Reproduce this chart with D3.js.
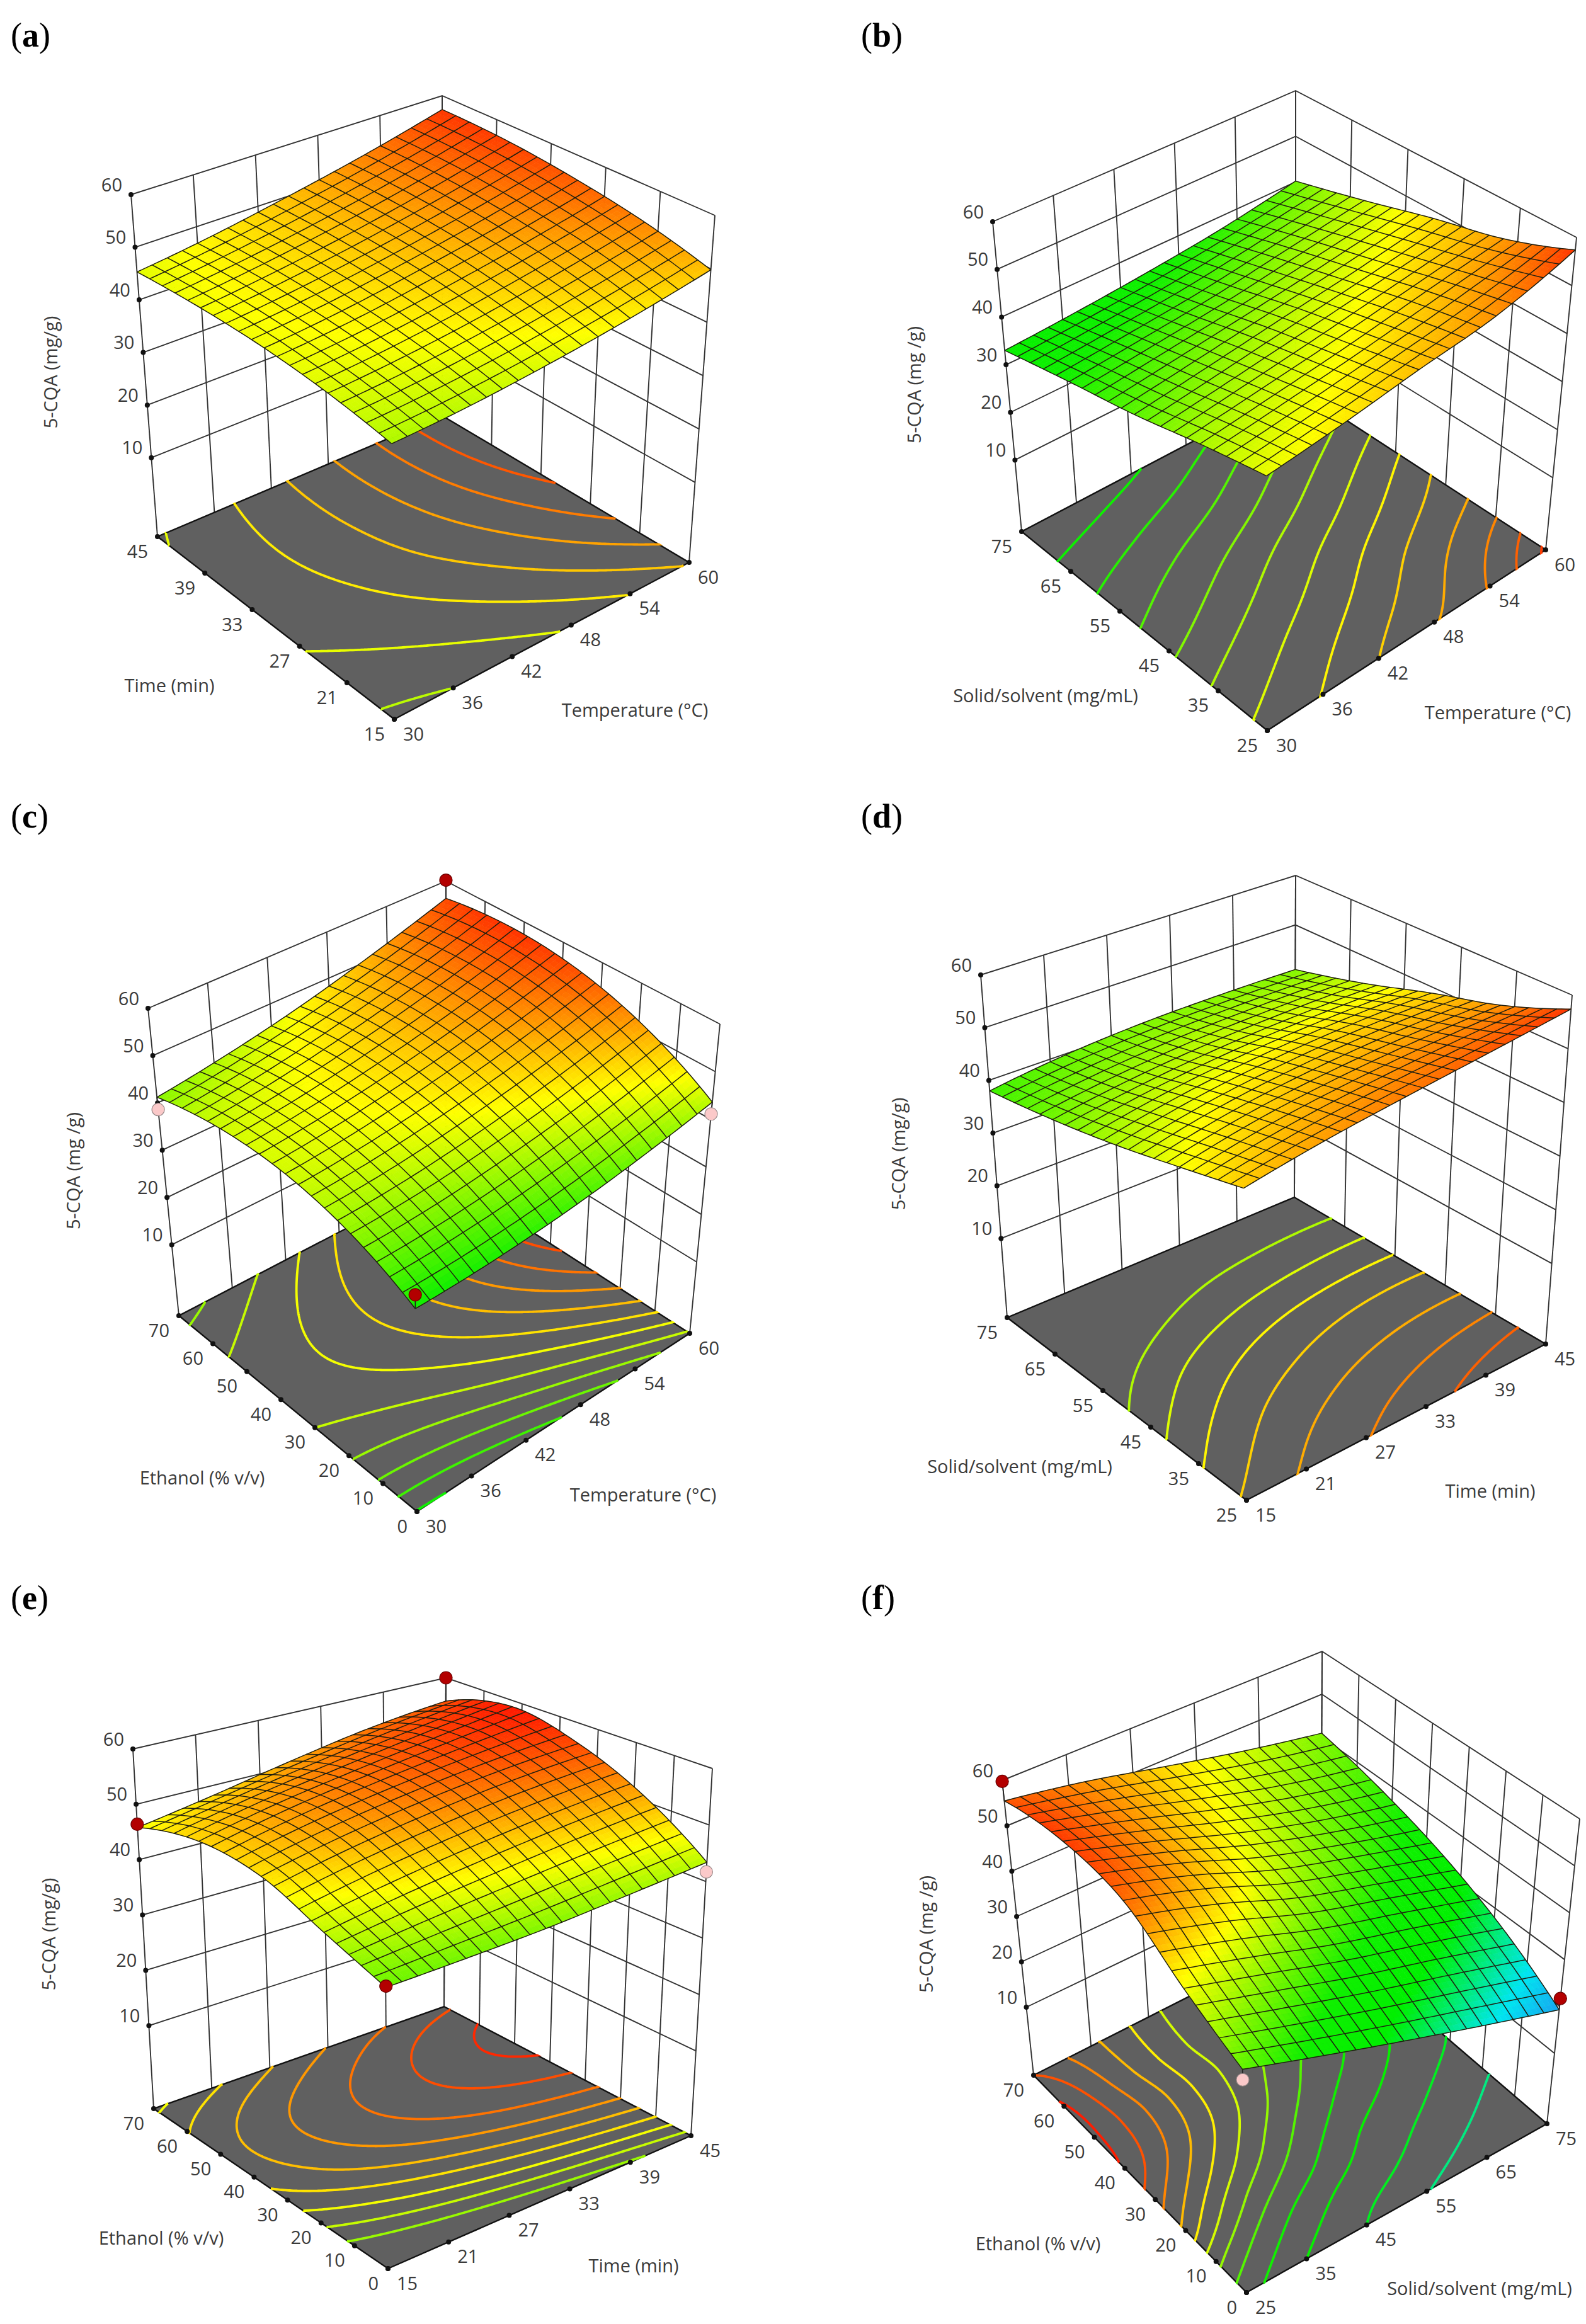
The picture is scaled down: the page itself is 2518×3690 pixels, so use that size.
<!DOCTYPE html>
<html>
<head>
<meta charset="utf-8">
<script src="https://cdn.jsdelivr.net/npm/d3@7"></script>
<style>
  html, body { margin: 0; background: #fff; }
  text { font-family: "Open Sans", sans-serif; fill: #3a3a3a; }
</style>
</head>
<body>
<svg id="chart" width="2518" height="3690"></svg>
<script>
// tick labels
const tempTicks = [30, 36, 42, 48, 54, 60];
const timeTicks = [15, 21, 27, 33, 39, 45];
const solidTicks = [25, 35, 45, 55, 65, 75];
const ethanolTicks = [0, 10, 20, 30, 40, 50, 60, 70];
const zTicks = [10, 20, 30, 40, 50, 60];

// 5-CQA at 5x5 nodes: rows = y axis low to high, columns = x axis low to high
const surfaceA = [
  [43.0, 43.7, 45.1, 47.1, 49.8],
  [44.9, 45.9, 47.6, 50.0, 53.0],
  [45.9, 47.2, 49.3, 51.9, 55.2],
  [46.0, 47.7, 50.0, 53.0, 56.7],
  [45.3, 47.3, 50.0, 53.2, 57.2]
];
const surfaceB = [
  [45.6, 47.5, 50.0, 52.4, 57.4],
  [42.7, 44.6, 46.7, 49.4, 52.0],
  [39.2, 41.2, 43.4, 45.6, 48.4],
  [36.3, 37.7, 39.3, 41.7, 44.2],
  [33.0, 34.0, 35.4, 37.3, 40.2]
];
const surfaceC = [
  [35.9, 36.4, 37.8, 40.2, 43.6],
  [41.7, 42.5, 44.4, 47.2, 51.1],
  [44.5, 45.8, 48.1, 51.4, 55.7],
  [44.3, 46.1, 48.9, 52.6, 57.4],
  [41.2, 43.5, 46.7, 51.0, 56.2]
];
const surfaceD = [
  [49.3, 51.7, 53.6, 55.4, 57.4],
  [46.1, 49.0, 50.8, 51.9, 52.4],
  [42.9, 45.8, 47.6, 48.6, 48.8],
  [40.2, 42.3, 43.7, 44.4, 44.6],
  [38.0, 39.8, 40.8, 41.1, 41.0]
];
const surfaceE = [
  [40.0, 40.4, 41.0, 42.1, 43.4],
  [43.8, 46.0, 47.9, 49.6, 51.0],
  [48.0, 50.9, 53.2, 55.0, 56.2],
  [48.8, 51.8, 54.2, 56.5, 58.8],
  [45.8, 48.2, 51.0, 53.6, 55.4]
];
const surfaceF = [
  [39.7, 34.6, 29.5, 24.4, 19.3],
  [46.2, 41.5, 36.5, 32.0, 27.0],
  [54.5, 49.5, 43.0, 38.0, 33.0],
  [57.0, 52.0, 46.5, 41.5, 37.5],
  [55.5, 52.5, 48.5, 44.5, 40.9]
];

// where the floor contours disagree with the heights above, the floor is read on its own
const floorE = [
  [37.5, 38.7, 40.0, 41.4, 43.0],
  [43.8, 46.0, 47.9, 49.6, 51.0],
  [48.0, 50.9, 53.2, 55.0, 56.2],
  [48.8, 51.8, 54.2, 56.5, 58.8],
  [45.5, 48.2, 51.0, 53.6, 55.4]
];
// rows = ethanol ticks, columns = solid/solvent ticks
const floorF = [
  [37.5, 33.0, 30.0, 27.2, 24.7, 22.0],
  [42.7, 36.9, 32.8, 30.2, 27.7, 25.0],
  [49.4, 41.9, 37.0, 32.7, 30.1, 27.5],
  [54.2, 47.1, 40.9, 36.0, 32.6, 29.8],
  [58.2, 50.9, 44.2, 39.0, 35.0, 31.0],
  [59.2, 52.2, 45.4, 41.0, 36.5, 33.0],
  [58.9, 51.5, 45.2, 40.5, 36.0, 32.0],
  [55.8, 51.0, 45.7, 40.5, 36.0, 32.0]
];

// contour levels on the floor
const levelsA = [43.5, 45.5, 47.5, 49.5, 51.5, 53.5, 55.5];
const levelsB = [35, 37, 39, 41, 43, 45, 47, 49, 51, 53, 55, 57];
const levelsC = [36, 38, 40, 42, 44, 46, 48, 50, 52, 54, 56];
const levelsD = [43, 45, 47, 49, 51, 53, 55];
const levelsE = [42, 44, 46, 48, 50, 52, 54, 56, 58];
const levelsF = [27, 30, 33, 36, 39, 41.8, 44.6, 47.4, 50.2, 53, 55.8, 58.6];

// design points [x, y, 5-CQA]
const pointsC = [[30, 70, 38.6], [60, 70, 60.2], [60, 0, 41.1], [30, 0, 38.7]];
const pointsE = [[15, 70, 46.4], [45, 70, 60.0], [45, 0, 41.7], [15, 0, 40.2]];
const pointsF = [[25, 70, 59.8], [75, 0, 21.7], [25, 0, 37.6]];

const zFloor = -5;
const gridCells = 20, subCells = 3, contourSize = 161;

const panels = [
  {name: "a", xTicks: tempTicks, yTicks: timeTicks, surface: surfaceA, levels: levelsA, points: [],
   xTitle: "Temperature (°C)", yTitle: "Time (min)", zTitle: "5-CQA (mg/g)",
   labelAt: [17, 74], xTitleAt: [1008, 1126], yTitleAt: [269, 1087], zTitleAt: [79, 591],
   L: [250, 852], F: [626, 1142], R: [1094, 893], B: [702, 660], TL: [208, 309], TB: [702, 152], TR: [1135, 342]},
  {name: "b", xTicks: tempTicks, yTicks: solidTicks, surface: surfaceB, levels: levelsB, points: [],
   xTitle: "Temperature (°C)", yTitle: "Solid/solvent (mg/mL)", zTitle: "5-CQA (mg /g)",
   labelAt: [1367, 74], xTitleAt: [2378, 1130], yTitleAt: [1660, 1103], zTitleAt: [1450, 611],
   L: [1622, 844], F: [2012, 1160], R: [2454, 873], B: [2057, 615], TL: [1576, 352], TB: [2057, 144], TR: [2503, 377]},
  {name: "c", xTicks: tempTicks, yTicks: ethanolTicks, surface: surfaceC, levels: levelsC, points: pointsC,
   xTitle: "Temperature (°C)", yTitle: "Ethanol (% v/v)", zTitle: "5-CQA (mg /g)",
   labelAt: [17, 1314], xTitleAt: [1021, 2372], yTitleAt: [321, 2345], zTitleAt: [115, 1859],
   L: [284, 2089], F: [662, 2400], R: [1095, 2117], B: [708, 1868], TL: [235, 1601], TB: [708, 1399], TR: [1143, 1626]},
  {name: "d", xTicks: timeTicks, yTicks: solidTicks, surface: surfaceD, levels: levelsD, points: [],
   xTitle: "Time (min)", yTitle: "Solid/solvent (mg/mL)", zTitle: "5-CQA (mg/g)",
   labelAt: [1367, 1314], xTitleAt: [2366, 2366], yTitleAt: [1619, 2327], zTitleAt: [1425, 1832],
   L: [1599, 2092], F: [1979, 2382], R: [2454, 2134], B: [2055, 1901], TL: [1557, 1548], TB: [2057, 1390], TR: [2496, 1580]},
  {name: "e", xTicks: timeTicks, yTicks: ethanolTicks, surface: surfaceE, floor: floorE, levels: levelsE, points: pointsE,
   xTitle: "Time (min)", yTitle: "Ethanol (% v/v)", zTitle: "5-CQA (mg/g)",
   labelAt: [17, 2555], xTitleAt: [1006, 3596], yTitleAt: [256, 3552], zTitleAt: [76, 3071],
   L: [244, 3348], F: [616, 3602], R: [1097, 3391], B: [705, 3186], TL: [211, 2777], TB: [708, 2664], TR: [1131, 2808]},
  {name: "f", xTicks: solidTicks, yTicks: ethanolTicks, surface: surfaceF, floor: floorF, levels: levelsF, points: pointsF,
   xTitle: "Solid/solvent (mg/mL)", yTitle: "Ethanol (% v/v)", zTitle: "5-CQA (mg /g)",
   labelAt: [1367, 2555], xTitleAt: [2349, 3632], yTitleAt: [1648, 3561], zTitleAt: [1469, 3071],
   L: [1641, 3295], F: [1979, 3640], R: [2456, 3372], B: [2097, 3064], TL: [1591, 2827], TB: [2099, 2622], TR: [2508, 2888]}
];

const color = d3.scaleLinear()
  .domain([18, 23.5, 31, 36, 46.5, 58])
  .range(["#1e90f0", "#00e6f0", "#00f000", "#10f000", "#ffff00", "#ff2800"]);

const svg = d3.select("#chart");
const line = d3.line();

// catmull-rom through the read nodes, same role as d3.curveCatmullRom in a line chart
function spline(p, t) {
  const n = p.length;
  const i = Math.min(Math.floor(t), n - 2), f = t - i;
  const at = k => k < 0 ? 3 * p[0] - 3 * p[1] + p[2] : k >= n ? 3 * p[n - 1] - 3 * p[n - 2] + p[n - 3] : p[k];
  const a = at(i - 1), b = at(i), c = at(i + 1), d = at(i + 2);
  return 0.5 * (2 * b + (c - a) * f + (2 * a - 5 * b + 4 * c - d) * f * f + (3 * b - a - 3 * c + d) * f * f * f);
}

function surfaceValue(table, u, v) {
  const col = table.map(row => spline(row, u * (row.length - 1)));
  return spline(col, v * (table.length - 1));
}

// box projection from the seven visible corners, hidden top corner worked out from the others
function makeProjection(p) {
  const lenL = p.L[1] - p.TL[1], lenR = p.R[1] - p.TR[1], lenB = p.B[1] - p.TB[1];
  const lenF = 1 / (1 / lenL + 1 / lenR - 1 / lenB);
  const leanL = (p.TL[0] - p.L[0]) / lenL, leanR = (p.TR[0] - p.R[0]) / lenR;
  const leanF = leanL + (leanR - leanL) * (p.F[0] - p.L[0]) / (p.R[0] - p.L[0]);
  const TF = [p.F[0] + leanF * lenF, p.F[1] - lenF];
  const quad = (f, r, l, b, u, v, k) =>
    f[k] * (1 - u) * (1 - v) + r[k] * u * (1 - v) + l[k] * (1 - u) * v + b[k] * u * v;
  return (u, v, w) => [0, 1].map(k => {
    const lo = quad(p.F, p.R, p.L, p.B, u, v, k);
    const hi = quad(TF, p.TR, p.TL, p.TB, u, v, k);
    return lo + (hi - lo) * w;
  });
}

function drawPanel(p) {
  const g = svg.append("g").attr("class", "panel-" + p.name);
  const project = makeProjection(p);
  const x = d3.scaleLinear().domain(d3.extent(p.xTicks)).range([0, 1]);
  const y = d3.scaleLinear().domain(d3.extent(p.yTicks)).range([0, 1]);
  const z = d3.scaleLinear().domain([zFloor, 60]).range([0, 1]);

  // walls
  const wall = g.append("g").attr("fill", "none").attr("stroke", "#333").attr("stroke-width", 1.9);
  p.xTicks.forEach(t => wall.append("path").attr("d", line([project(x(t), 1, 0), project(x(t), 1, 1)])));
  p.yTicks.forEach(t => wall.append("path").attr("d", line([project(1, y(t), 0), project(1, y(t), 1)])));
  zTicks.forEach(t => wall.append("path").attr("d", line([project(0, 1, z(t)), project(1, 1, z(t)), project(1, 0, z(t))])));

  // floor
  g.append("path")
    .attr("d", line([project(0, 0, 0), project(1, 0, 0), project(1, 1, 0), project(0, 1, 0)]) + "Z")
    .attr("fill", "#606060").attr("stroke", "#111").attr("stroke-width", 2.4);

  // contours on the floor
  const n = contourSize;
  const floorTable = p.floor || p.surface;
  const values = [];
  for (let j = 0; j < n; j++) {
    for (let i = 0; i < n; i++) values.push(surfaceValue(floorTable, i / (n - 1), j / (n - 1)));
  }
  const contours = d3.contours().size([n, n]).thresholds(p.levels)(values);
  const toFloor = q => project(
    Math.max(0, Math.min(1, (q[0] - 0.5) / (n - 1))),
    Math.max(0, Math.min(1, (q[1] - 0.5) / (n - 1))), 0);
  const onEdge = q => q[0] <= 0 || q[0] >= n || q[1] <= 0 || q[1] >= n;
  contours.forEach(c => {
    const runs = [];
    c.coordinates.forEach(poly => poly.forEach(ring => {
      let run = [];
      ring.forEach((q, i) => {
        if (i > 0 && onEdge(q) && onEdge(ring[i - 1])) {
          if (run.length > 1) runs.push(run);
          run = [];
        }
        run.push(q);
      });
      if (run.length > 1) runs.push(run);
    }));
    g.append("path")
      .attr("d", runs.map(r => line(r.map(toFloor))).join(""))
      .attr("fill", "none")
      .attr("stroke", color(c.value))
      .attr("stroke-width", 3.8)
      .attr("stroke-linecap", "butt");
  });

  // tick dots and labels
  const ticks = g.append("g");
  const dot = q => ticks.append("circle").attr("cx", q[0]).attr("cy", q[1]).attr("r", 4).attr("fill", "#111");
  const label = (q, text, dx, dy, anchor) => ticks.append("text")
    .attr("x", q[0] + dx).attr("y", q[1] + dy)
    .attr("text-anchor", anchor).attr("dominant-baseline", "central")
    .attr("font-size", 29).text(text);
  p.xTicks.forEach(t => {
    const q = project(x(t), 0, 0);
    dot(q);
    label(q, t, 14, 22, "start");
  });
  p.yTicks.forEach(t => {
    const q = project(0, y(t), 0);
    dot(q);
    label(q, t, -15, 22, "end");
  });
  zTicks.forEach(t => {
    const q = project(0, 1, z(t));
    dot(q);
    label(q, t, -14, -17, "end");
  });

  // surface, back corner first
  const m = gridCells * subCells;
  const nodes = d3.range(m + 1).map(j => d3.range(m + 1).map(i => surfaceValue(p.surface, i / m, j / m)));
  const at = (i, j) => project(i / m, j / m, z(nodes[j][i]));
  const cells = g.append("g");
  for (let j = m - 1; j >= 0; j--) {
    for (let i = m - 1; i >= 0; i--) {
      const c = color((nodes[j][i] + nodes[j][i + 1] + nodes[j + 1][i] + nodes[j + 1][i + 1]) / 4);
      cells.append("path")
        .attr("d", line([at(i, j), at(i + 1, j), at(i + 1, j + 1), at(i, j + 1)]) + "Z")
        .attr("fill", c).attr("stroke", c).attr("stroke-width", 0.7);
    }
  }
  const mesh = g.append("g").attr("fill", "none").attr("stroke", "#1f1f10").attr("stroke-width", 1.5);
  for (let k = 0; k <= gridCells; k++) {
    mesh.append("path").attr("d", line(d3.range(m + 1).map(i => at(i, k * subCells))));
    mesh.append("path").attr("d", line(d3.range(m + 1).map(j => at(k * subCells, j))));
  }

  // design points with their stems to the surface
  p.points.forEach(d => {
    const u = x(d[0]), v = y(d[1]);
    const s = surfaceValue(p.surface, u, v);
    const q = project(u, v, z(d[2]));
    g.append("path").attr("d", line([q, project(u, v, z(s))]))
      .attr("stroke", "#222").attr("stroke-width", 1.6);
    g.append("circle").attr("cx", q[0]).attr("cy", q[1]).attr("r", 10)
      .attr("fill", d[2] >= s ? "#b30000" : "#fbc9c9")
      .attr("stroke", d[2] >= s ? "#6b0000" : "#9a8a8a").attr("stroke-width", 1.2);
  });

  // titles
  const title = (at, text, rotate) => g.append("text")
    .attr("transform", "translate(" + at[0] + "," + at[1] + ")" + (rotate ? " rotate(-90)" : ""))
    .attr("text-anchor", "middle").attr("dominant-baseline", "central")
    .attr("font-size", 29).text(text);
  title(p.xTitleAt, p.xTitle);
  title(p.yTitleAt, p.yTitle);
  title(p.zTitleAt, p.zTitle, true);

  const tag = g.append("text")
    .attr("x", p.labelAt[0]).attr("y", p.labelAt[1])
    .attr("font-size", 54).style("font-family", "'Liberation Serif', serif").style("fill", "#000");
  tag.append("tspan").text("(");
  tag.append("tspan").attr("font-weight", "bold").text(p.name);
  tag.append("tspan").text(")");
}

panels.forEach(drawPanel);
</script>
</body>
</html>
